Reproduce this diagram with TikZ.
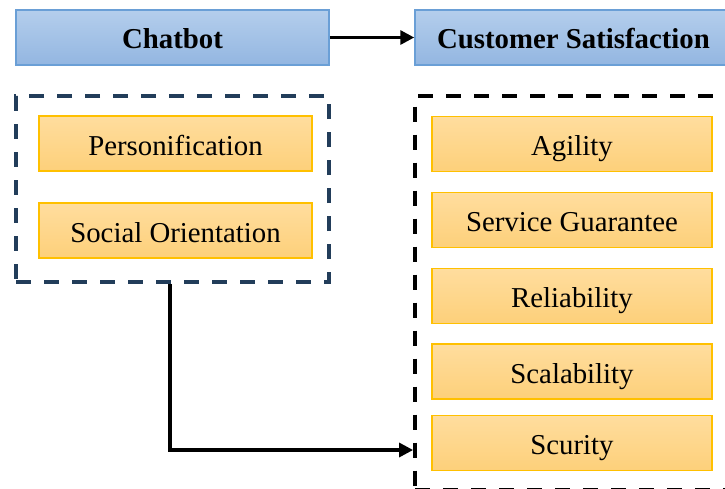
\documentclass[tikz,border=0pt]{standalone}
\usepackage{fontspec}
\setmainfont{Liberation Serif}
\usetikzlibrary{arrows.meta}
\definecolor{bluetop}{HTML}{B4CEEC}
\definecolor{bluebot}{HTML}{93B6E1}
\definecolor{blueline}{HTML}{6A9FD6}
\definecolor{orgtop}{HTML}{FFDD9E}
\definecolor{orgbot}{HTML}{FDD07A}
\definecolor{orgline}{HTML}{FFC000}
\definecolor{navy}{HTML}{223D5A}
\tikzset{
  titlebox/.style={draw=blueline, line width=1.5pt, top color=bluetop, bottom color=bluebot,
    minimum height=55pt, inner sep=0pt, text height=21pt, text depth=0pt,
    font=\fontsize{28.8}{32}\selectfont\bfseries},
  itembox/.style={draw=orgline, line width=1.8pt, top color=orgtop, bottom color=orgbot,
    minimum height=55pt, inner sep=0pt, text height=23pt, text depth=0pt,
    font=\fontsize{28.8}{32}\selectfont},
  grpbox/.style={line width=3.8pt, dash pattern=on 15pt off 13pt, inner sep=0pt},
  arr/.style={line width=3.2pt, -{Triangle[length=14pt,width=14pt]}}
}
\begin{document}
\begin{tikzpicture}[x=1pt,y=-1pt]
\useasboundingbox (0,0) rectangle (725,488);
\clip (0,0) rectangle (725,488);
% groups
\node[grpbox, draw=navy, minimum width=313pt, minimum height=186pt] (lg) at (172.5,189) {};
\node[grpbox, draw=black, minimum width=330pt, minimum height=393.5pt] (rg) at (580,292.75) {};
% titles
\node[titlebox, minimum width=313pt] (chat) at (172.5,37.5) {Chatbot};
\node[titlebox, minimum width=317pt] (cs) at (573.5,37.5) {Customer Satisfaction};
% left items
\node[itembox, minimum width=273pt] (pers) at (175.5,143.5) {Personification};
\node[itembox, minimum width=273pt] (soc) at (175.5,230.5) {Social Orientation};
% right items
\node[itembox, minimum width=280pt] (agi) at (572,144) {Agility};
\node[itembox, minimum width=280pt] (serv) at (572,220) {Service Guarantee};
\node[itembox, minimum width=280pt] (rel) at (572,296) {Reliability};
\node[itembox, minimum width=280pt] (sca) at (572,371.5) {Scalability};
\node[itembox, minimum width=280pt] (scu) at (572,443) {Scurity};
% connectors
\draw[arr] (chat.east) -- (cs.west);
\coordinate (lgout) at ([xshift=-2.5pt]lg.south);
\coordinate (rgin) at (rg.west |- 0,450);
\draw[arr] (lgout) |- (rgin);
\end{tikzpicture}
\end{document}
